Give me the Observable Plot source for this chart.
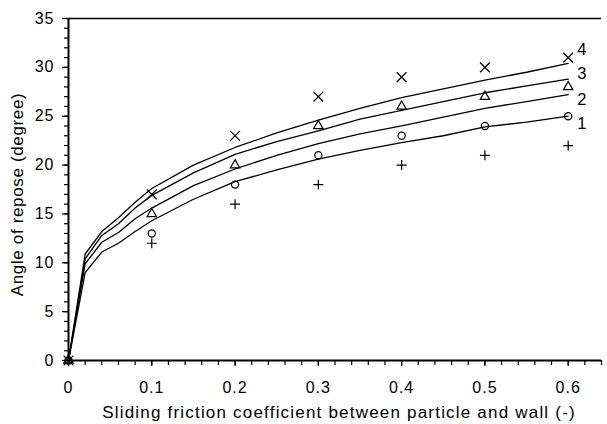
<!DOCTYPE html>
<html>
<head>
<meta charset="utf-8">
<script src="https://cdn.jsdelivr.net/npm/d3@7"></script>
<script src="https://cdn.jsdelivr.net/npm/@observablehq/plot@0.6"></script>
<style>
  html, body { margin: 0; padding: 0; background: #fff; }
</style>
</head>
<body>
<div id="chart"></div>
<script>
// Fitted curves (x = sliding friction coefficient)
const curveX = [0, 0.02, 0.04, 0.06, 0.08, 0.1, 0.15, 0.2, 0.25, 0.3, 0.35, 0.4, 0.45, 0.5, 0.55, 0.6];
const curve1 = [0, 9.0, 11.1, 12.0, 13.2, 14.3, 16.5, 18.3, 19.5, 20.6, 21.5, 22.3, 23.0, 23.9, 24.4, 25.0];
const curve2 = [0, 9.9, 12.1, 13.1, 14.5, 15.6, 17.9, 19.6, 21.0, 22.2, 23.2, 24.0, 24.9, 25.8, 26.5, 27.2];
const curve3 = [0, 10.4, 12.8, 14.0, 15.6, 16.9, 19.2, 21.1, 22.4, 23.5, 24.7, 25.6, 26.5, 27.4, 28.1, 28.8];
const curve4 = [0, 10.9, 13.2, 14.6, 16.2, 17.6, 20.0, 21.8, 23.3, 24.6, 25.8, 26.9, 27.8, 28.7, 29.5, 30.4];

// Measured points
const pointX = [0, 0.1, 0.2, 0.3, 0.4, 0.5, 0.6];
const plusPts = [0, 12, 16, 18, 20, 21, 22];
const circlePts = [0, 13, 18, 21, 23, 24, 25];
const trianglePts = [0, 15, 20, 24, 26, 27, 28];
const timesPts = [0, 17, 23, 27, 29, 30, 31];

// Curve labels
const curveNames = ["1", "2", "3", "4"];
const labelLevels = [24.2, 26.7, 29.3, 31.8];

const xMajor = [0, 0.1, 0.2, 0.3, 0.4, 0.5, 0.6];
const xMinor = d3.range(0, 33).map(i => i * 0.02);
const yMajor = [0, 5, 10, 15, 20, 25, 30, 35];
const yMinor = d3.range(0, 36);

const xTitle = "Sliding friction coefficient between particle and wall (-)";
const yTitle = "Angle of repose (degree)";

const curves = [curve1, curve2, curve3, curve4];
const lineData = curves.flatMap((c, k) => c.map((v, i) => ({x: curveX[i], y: v, s: k})));
const mk = arr => arr.map((v, i) => ({x: pointX[i], y: v}));
const labels = curveNames.map((n, i) => ({x: 0.6, y: labelLevels[i], t: n}));

const chart = Plot.plot({
  width: 607,
  height: 424,
  marginLeft: 68,
  marginRight: 6,
  marginTop: 18,
  marginBottom: 64,
  style: {fontFamily: "'Liberation Sans', Arial, sans-serif", fontSize: "16px", letterSpacing: "1px", background: "#fff", color: "#000"},
  x: {domain: [0, 0.64]},
  y: {domain: [0, 35]},
  marks: [
    Plot.axisX({ticks: xMinor, tickSize: 5, tickFormat: () => "", label: null, strokeWidth: 1.2}),
    Plot.axisX({ticks: xMajor, tickSize: 6, tickPadding: 15, tickFormat: d => d === 0 ? "0" : d3.format(".1f")(d), label: null, fontSize: 16, strokeWidth: 1.2}),
    Plot.axisY({ticks: yMinor, tickSize: 4, tickFormat: () => "", label: null, strokeWidth: 1.2}),
    Plot.axisY({ticks: yMajor, tickSize: 6, tickPadding: 8, label: null, fontSize: 16, strokeWidth: 1.2}),
    Plot.ruleX([0], {strokeWidth: 2}),
    Plot.ruleY([0], {strokeWidth: 1.8}),
    Plot.ruleY([35], {strokeWidth: 1.6}),
    Plot.line(lineData, {x: "x", y: "y", z: "s", stroke: "#000", strokeWidth: 1.3}),
    Plot.dot(mk(plusPts), {x: "x", y: "y", symbol: "plus", r: 3.3, stroke: "#000", strokeWidth: 1.2}),
    Plot.dot(mk(circlePts), {x: "x", y: "y", symbol: "circle", r: 3.6, stroke: "#000", fill: "none", strokeWidth: 1.2}),
    Plot.dot(mk(trianglePts), {x: "x", y: "y", symbol: "triangle2", r: 4.5, stroke: "#000", fill: "none", strokeWidth: 1.2}),
    Plot.dot(mk(timesPts), {x: "x", y: "y", symbol: "times", r: 4.5, stroke: "#000", strokeWidth: 1.2}),
    Plot.text(labels, {x: "x", y: "y", text: "t", dx: 9, textAnchor: "start", fontSize: 16.5, fill: "#000"}),
    Plot.text([xTitle], {frameAnchor: "bottom", dx: 4, dy: 57, lineAnchor: "bottom", textAnchor: "middle", fontSize: 17, fill: "#000"}),
    Plot.text([yTitle], {frameAnchor: "left", dx: -51, dy: 5, rotate: -90, textAnchor: "middle", fontSize: 17, fill: "#000"})
  ]
});
d3.select(chart).selectAll("text").each(function() {
  const t = this.textContent;
  if (t === xTitle) this.style.letterSpacing = "1.2px";
  if (t === yTitle) this.style.letterSpacing = "0.65px";
});
document.getElementById("chart").appendChild(chart);
</script>
</body>
</html>
